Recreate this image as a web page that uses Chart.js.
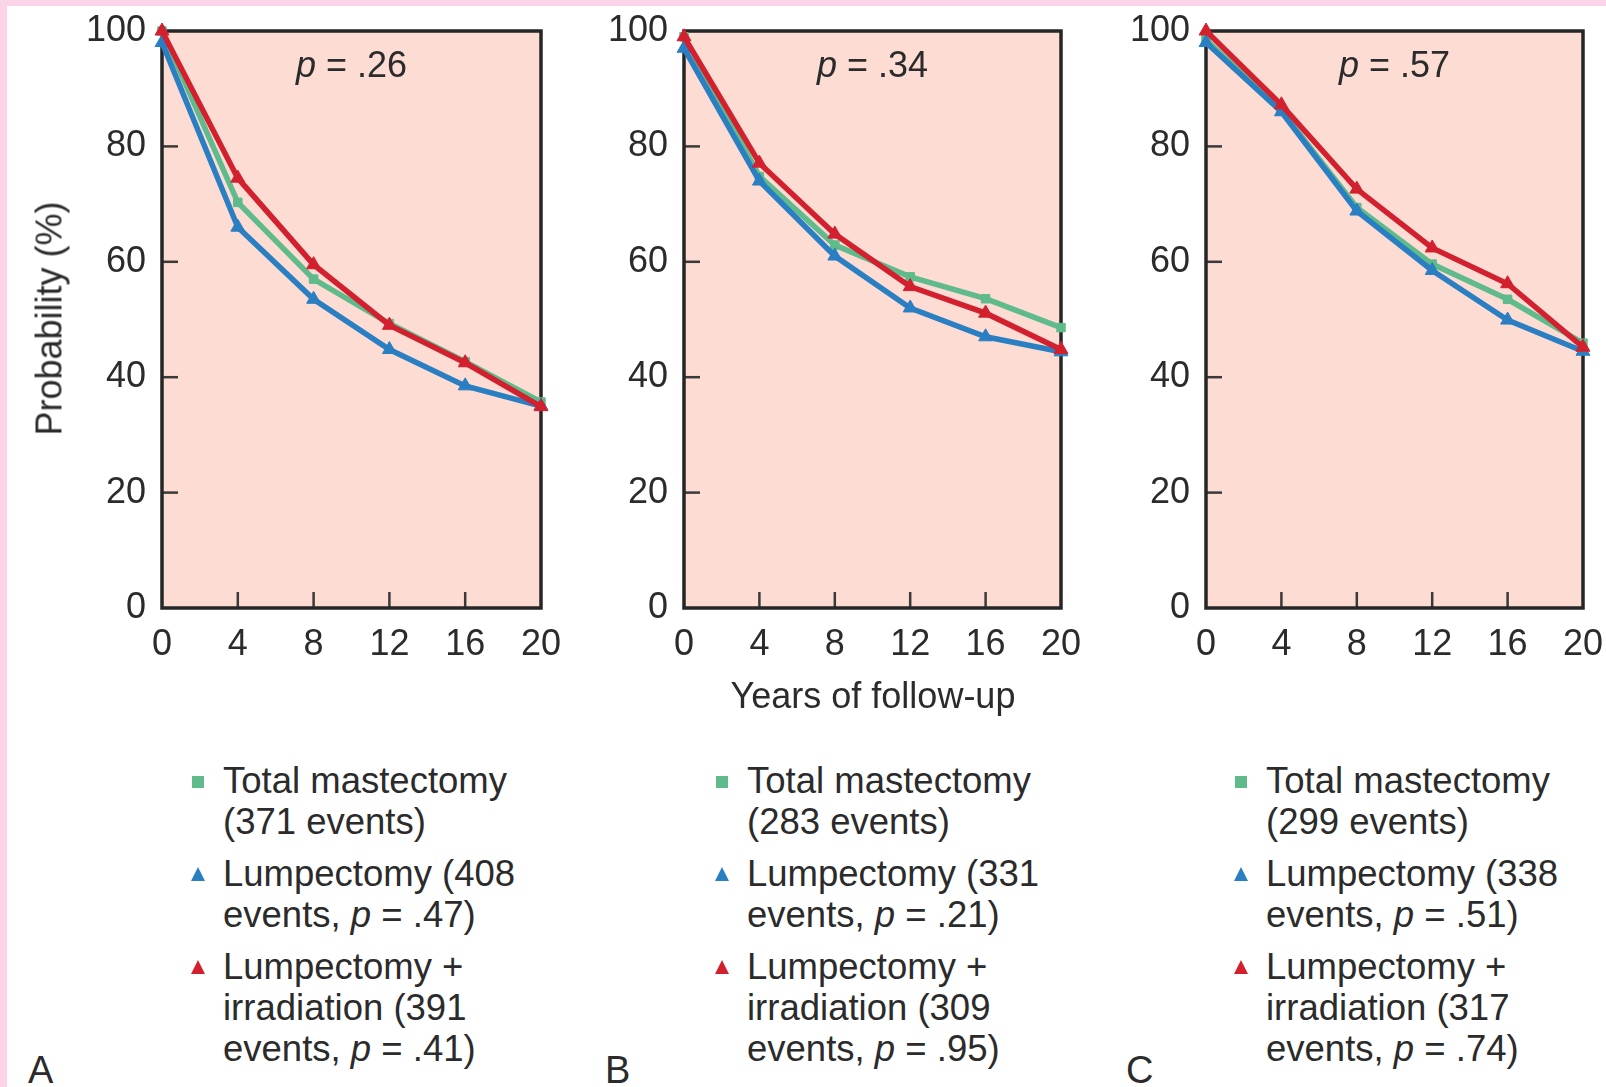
<!DOCTYPE html>
<html>
<head>
<meta charset="utf-8">
<script src="https://cdn.jsdelivr.net/npm/chart.js@4.4.0/dist/chart.umd.min.js"></script>
<style>
html,body{margin:0;padding:0;background:#fff;}
body{width:1606px;height:1087px;position:relative;overflow:hidden;font-family:"Liberation Sans",Arial,Helvetica,sans-serif;color:#2b2b2b;}
#topband{position:absolute;left:0;top:0;width:1606px;height:6px;background:#fcd4e8;}
#leftband{position:absolute;left:0;top:0;width:7px;height:1087px;background:#fcd4e8;}
canvas{position:absolute;left:0;top:0;}
.t{position:absolute;font-size:36px;line-height:41px;white-space:nowrap;}
.legend{position:absolute;font-size:36.5px;line-height:41px;white-space:nowrap;}
.item{position:relative;margin-bottom:11px;}
.item svg{position:absolute;left:-33px;top:13px;}
</style>
</head>
<body>
<div id="topband"></div>
<div id="leftband"></div>
<canvas id="cA" width="1606" height="720"></canvas>
<canvas id="cB" width="1606" height="720"></canvas>
<canvas id="cC" width="1606" height="720"></canvas>
<script>
// ---- data ----
const years = [0, 4, 8, 12, 16, 20];
const yTicks = [0, 20, 40, 60, 80, 100];
const seriesNames = ['Total mastectomy', 'Lumpectomy', 'Lumpectomy + irradiation'];

const totalA   = [100, 70.3, 57.0, 49.3, 42.7, 35.7];
const lumpA    = [98.0, 66.0, 53.5, 44.8, 38.5, 35.0];
const lumpIrrA = [100, 74.5, 59.5, 49.0, 42.5, 34.9];

const totalB   = [99.0, 74.8, 62.9, 57.4, 53.6, 48.6];
const lumpB    = [97.0, 74.0, 61.0, 52.0, 47.0, 44.4];
const lumpIrrB = [99.0, 77.1, 64.8, 55.7, 51.1, 44.8];

const totalC   = [98.5, 86.2, 69.4, 59.6, 53.5, 45.9];
const lumpC    = [98.0, 86.0, 68.8, 58.5, 49.9, 44.5];
const lumpIrrC = [100, 87.2, 72.6, 62.4, 56.2, 45.2];

const overallP = ['.26', '.34', '.57'];
const eventsA = [371, 408, 391];
const eventsB = [283, 331, 309];
const eventsC = [299, 338, 317];
const pA = ['', '.47', '.41'];
const pB = ['', '.21', '.95'];
const pC = ['', '.51', '.74'];
const panelLetters = ['A', 'B', 'C'];

// ---- styling ----
const colors = ['#5fbb8b', '#2a7fc2', '#d2202f'];
const pointStyles = ['rect', 'triangle', 'triangle'];
const FONT = '"Liberation Sans", Arial, Helvetica, sans-serif';
const TEXT = '#2b2b2b';
const plotTop = 31, canvasH = 720, canvasW = 1606, xAxisH = 112;
const plotLefts = [162, 684, 1206];
const plotRights = [541, 1061, 1583];

const deco = {
  id: 'deco',
  beforeDraw(chart) {
    const {ctx, chartArea: a} = chart;
    ctx.save();
    ctx.fillStyle = '#fcdcd3';
    ctx.fillRect(a.left, a.top, a.right - a.left, a.bottom - a.top);
    ctx.restore();
  },
  beforeDatasetsDraw(chart) {
    const {ctx, chartArea: a, scales: {x, y}} = chart;
    ctx.save();
    ctx.strokeStyle = '#3a3a3a';
    ctx.lineWidth = 2.5;
    y.ticks.forEach(t => {
      if (t.value > y.min && t.value < y.max) {
        const py = y.getPixelForValue(t.value);
        ctx.beginPath(); ctx.moveTo(a.left, py); ctx.lineTo(a.left + 16, py); ctx.stroke();
      }
    });
    x.ticks.forEach(t => {
      if (t.value > x.min && t.value < x.max) {
        const px = x.getPixelForValue(t.value);
        ctx.beginPath(); ctx.moveTo(px, a.bottom); ctx.lineTo(px, a.bottom - 16); ctx.stroke();
      }
    });
    ctx.lineWidth = 3.5;
    ctx.strokeStyle = '#262626';
    ctx.strokeRect(a.left, a.top, a.right - a.left, a.bottom - a.top);
    ctx.restore();
  }
};

function makePanel(i, canvasId, seriesList) {
  const yAxisW = 100;
  const datasets = seriesList.map((vals, k) => ({
    label: seriesNames[k],
    data: years.map((yr, j) => ({x: yr, y: vals[j]})),
    borderColor: colors[k],
    backgroundColor: colors[k],
    borderWidth: 5.5,
    pointStyle: pointStyles[k],
    pointRadius: k === 0 ? 6 : 8,
    pointBorderWidth: 1,
    pointBorderColor: colors[k],
    tension: 0,
    clip: false,
    order: 3 - k
  }));
  new Chart(document.getElementById(canvasId), {
    type: 'line',
    data: {datasets},
    options: {
      responsive: false,
      animation: false,
      devicePixelRatio: 1,
      layout: {padding: {left: plotLefts[i] - yAxisW, right: canvasW - plotRights[i], top: plotTop, bottom: 0}},
      plugins: {legend: {display: false}, tooltip: {enabled: false}},
      scales: {
        x: {
          type: 'linear', min: 0, max: 20,
          afterFit: s => { s.height = xAxisH; s.paddingLeft = 0; s.paddingRight = 0; },
          afterBuildTicks: s => { s.ticks = years.map(v => ({value: v})); },
          grid: {display: false, drawTicks: false},
          border: {display: false},
          ticks: {padding: 15, color: TEXT, font: {family: FONT, size: 36}, maxRotation: 0, autoSkip: false}
        },
        y: {
          type: 'linear', min: 0, max: 100,
          afterFit: s => { s.width = yAxisW; s.paddingTop = 0; s.paddingBottom = 0; },
          afterBuildTicks: s => { s.ticks = yTicks.map(v => ({value: v})); },
          grid: {display: false, drawTicks: false},
          border: {display: false},
          ticks: {padding: 16, color: TEXT, font: {family: FONT, size: 36}}
        }
      }
    },
    plugins: [deco]
  });
}

makePanel(0, 'cA', [totalA, lumpA, lumpIrrA]);
makePanel(1, 'cB', [totalB, lumpB, lumpIrrB]);
makePanel(2, 'cC', [totalC, lumpC, lumpIrrC]);

// ---- texts ----
function addText(html, css) {
  const d = document.createElement('div');
  d.className = 't';
  d.innerHTML = html;
  Object.assign(d.style, css);
  document.body.appendChild(d);
  return d;
}
overallP.forEach((p, i) => {
  const cx = (plotLefts[i] + plotRights[i]) / 2;
  addText('<i>p</i> = ' + p, {left: (cx - 150) + 'px', width: '300px', textAlign: 'center', top: (64 - 20) + 'px'});
});
addText('Years of follow-up', {left: (873 - 300) + 'px', width: '600px', textAlign: 'center', top: (696 - 21) + 'px'});
addText('Probability (%)', {left: (49 - 150) + 'px', width: '300px', textAlign: 'center', top: (319 - 21) + 'px', transform: 'rotate(-90deg)'});
[28, 605, 1126].forEach((x, i) => addText(panelLetters[i], {left: x + 'px', top: (1071 - 21) + 'px', fontSize: '38px'}));

function markerSvg(k) {
  if (pointStyles[k] === 'rect') {
    return '<svg width="16" height="16" viewBox="0 0 16 16"><rect x="2" y="3" width="12" height="12" fill="' + colors[k] + '"/></svg>';
  }
  return '<svg width="16" height="16" viewBox="0 0 16 16"><polygon points="8,1 15,15 1,15" fill="' + colors[k] + '"/></svg>';
}
const legendLefts = [223, 747, 1266];
[[eventsA, pA], [eventsB, pB], [eventsC, pC]].forEach(([ev, pv], i) => {
  const lines = [
    ['Total mastectomy', '(' + ev[0] + ' events)'],
    ['Lumpectomy (' + ev[1], 'events, <i>p</i> = ' + pv[1] + ')'],
    ['Lumpectomy +', 'irradiation (' + ev[2], 'events, <i>p</i> = ' + pv[2] + ')']
  ];
  const box = document.createElement('div');
  box.className = 'legend';
  box.style.left = legendLefts[i] + 'px';
  box.style.top = '760px';
  lines.forEach((ls, k) => {
    const it = document.createElement('div');
    it.className = 'item';
    it.innerHTML = markerSvg(k) + ls.join('<br>');
    box.appendChild(it);
  });
  document.body.appendChild(box);
});
</script>
</body>
</html>
